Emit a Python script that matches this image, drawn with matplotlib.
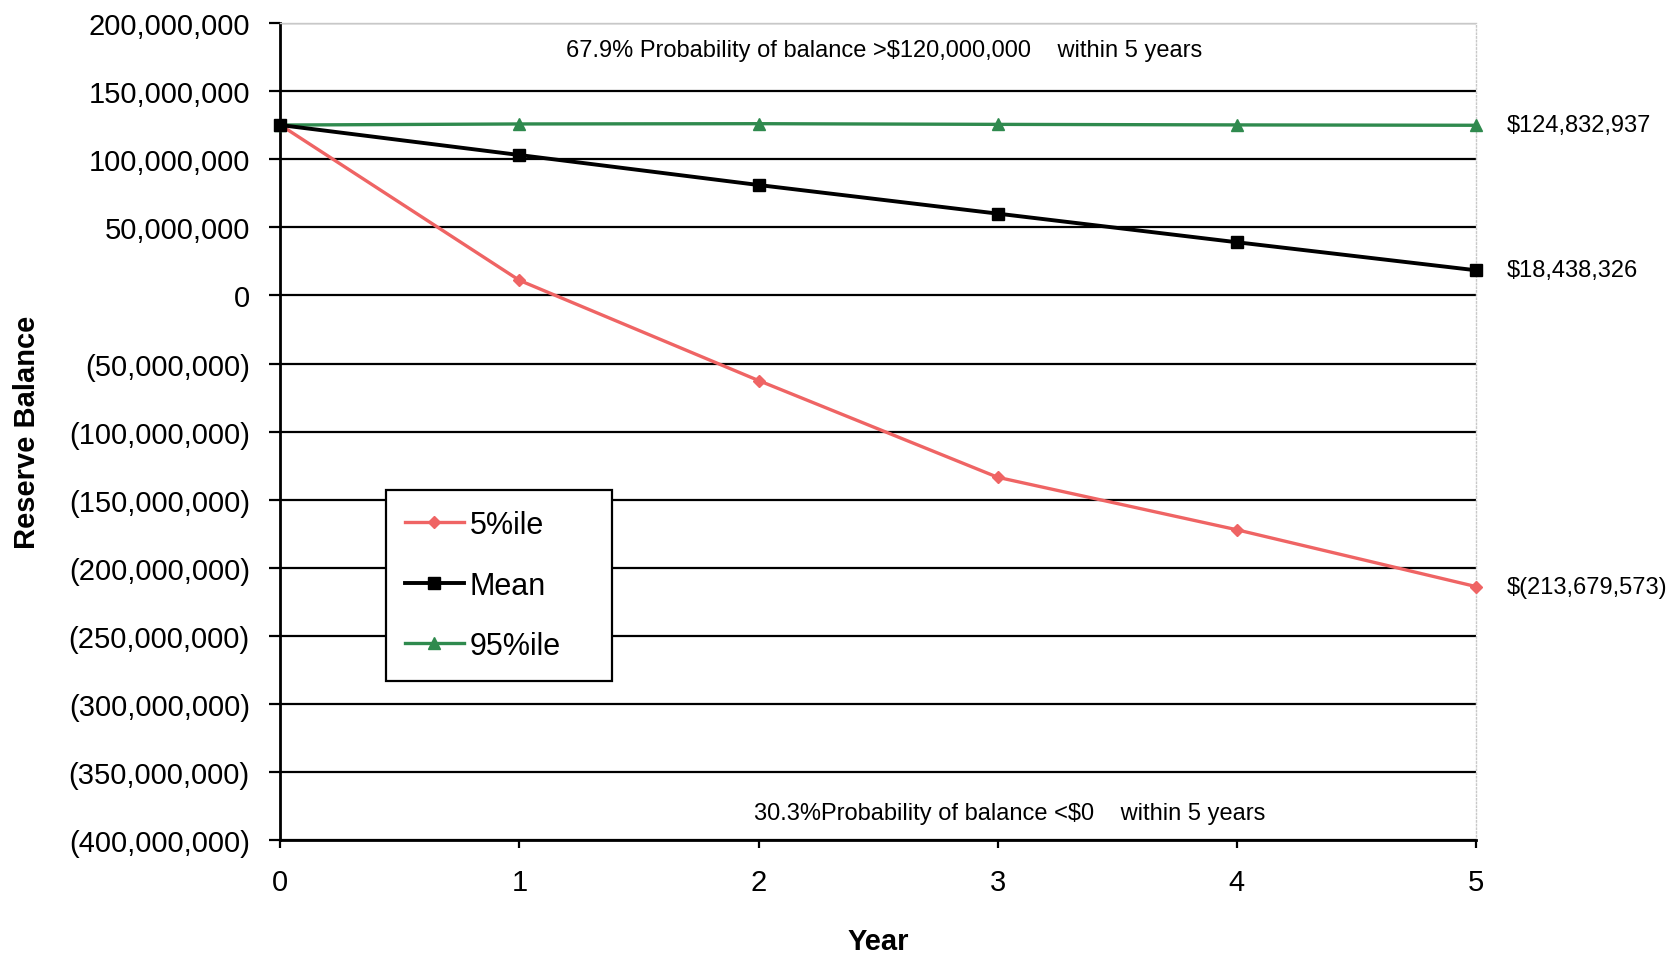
import matplotlib
matplotlib.use('Agg')
from matplotlib import pyplot as plt
from matplotlib.ticker import FuncFormatter, MultipleLocator

years = [0, 1, 2, 3, 4, 5]
pct5 = [125.0e6, 11.0e6, -62.5e6, -133.5e6, -172.0e6, -213679573]
mean = [125.0e6, 103.0e6, 81.0e6, 60.0e6, 39.0e6, 18438326]
pct95 = [125.0e6, 125.8e6, 126.0e6, 125.5e6, 125.1e6, 124832937]
end_labels = ['$(213,679,573)', '$18,438,326', '$124,832,937']
note_top = '67.9% Probability of balance >$120,000,000    within 5 years'
note_bottom = '30.3%Probability of balance <$0    within 5 years'

RED = '#ef6464'
GREEN = '#2f8a4e'
BASE = ['Liberation Sans', 'DejaVu Sans']

plt.rcParams['font.family'] = BASE


def money(v, _pos=None):
    if v < 0:
        return f'({-v:,.0f})'
    return f'{v:,.0f}'


fig = plt.figure(figsize=(16.79, 9.54), dpi=100)
ax = fig.add_axes([0.167, 0.118, 0.712, 0.857])

ax.set_xlim(0, 5)
ax.set_ylim(-400e6, 200e6)
ax.yaxis.set_major_locator(MultipleLocator(50e6))
ax.xaxis.set_major_locator(MultipleLocator(1))
ax.yaxis.set_major_formatter(FuncFormatter(money))
ax.grid(axis='y', color='black', linewidth=1.6)
ax.set_axisbelow(True)

ax.plot(years, pct5, color=RED, lw=2.4, marker='D', ms=6, label='5%ile', clip_on=False, zorder=3)
ax.plot(years, mean, color='black', lw=2.8, marker='s', ms=8, label='Mean', clip_on=False, zorder=4)
ax.plot(years, pct95, color=GREEN, lw=2.4, marker='^', ms=8, label='95%ile', clip_on=False, zorder=3)

for series, text in zip([pct5, mean, pct95], end_labels):
    ax.annotate(text, (years[-1], series[-1]), xytext=(22, 0), textcoords='offset points',
                ha='left', va='center', fontsize=17, annotation_clip=False)

ax.text(0.505, 0.967, note_top, transform=ax.transAxes, ha='center', va='center', fontsize=17)
ax.text(0.61, 0.033, note_bottom, transform=ax.transAxes, ha='center', va='center', fontsize=17)

for side in ['top', 'right']:
    ax.spines[side].set_color('#c8c8c8')
    ax.spines[side].set_linewidth(1.0)
ax.spines['right'].set_linestyle(':')
ax.spines['left'].set_linewidth(2.0)
ax.spines['bottom'].set_linewidth(2.0)

ax.tick_params(axis='y', labelsize=21, length=8, width=1.6, pad=14)
ax.tick_params(axis='x', labelsize=21, length=6, width=1.6, pad=14)

ax.set_xlabel('Year', fontsize=21, fontweight='bold', labelpad=22)
ax.set_ylabel('Reserve Balance', fontsize=21, fontweight='bold', labelpad=20)

leg = ax.legend(loc='lower left', bbox_to_anchor=(0.088, 0.195, 0.189, 0.234), mode='expand',
                fontsize=22, frameon=True, fancybox=False, handlelength=1.9,
                handletextpad=0.2, labelspacing=1.0, borderpad=0.65, borderaxespad=0)
leg.get_frame().set_edgecolor('black')
leg.get_frame().set_linewidth(1.6)
leg.get_frame().set_alpha(1)

fig.savefig('out.png', dpi=100)
